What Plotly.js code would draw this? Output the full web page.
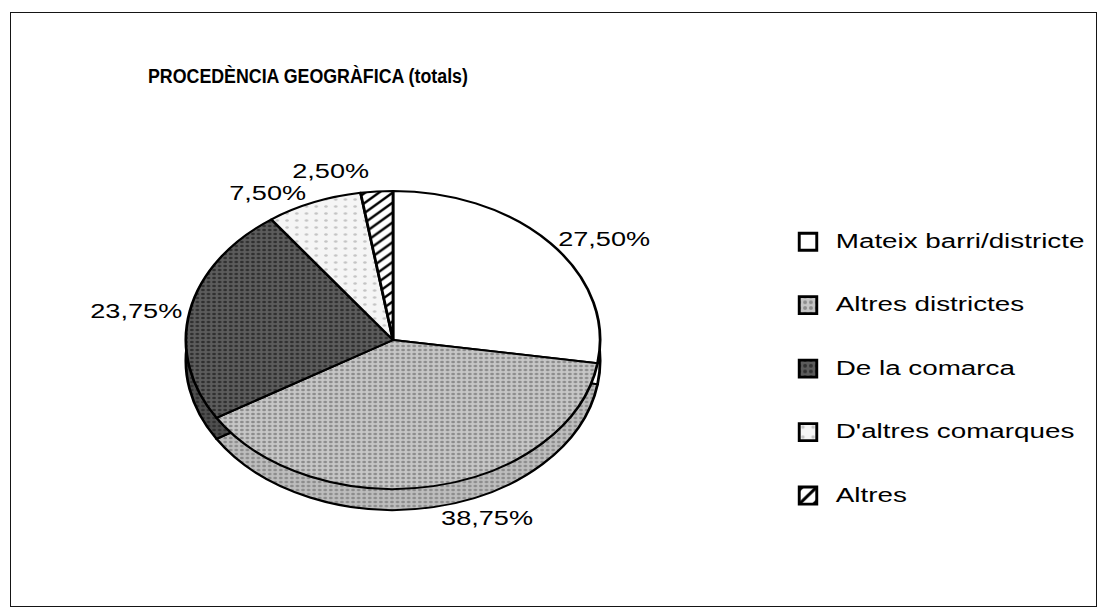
<!DOCTYPE html>
<html>
<head>
<meta charset="utf-8">
<script src="https://cdn.plot.ly/plotly-3.0.1.min.js"></script>
<style>
  html, body { margin: 0; padding: 0; background: #fff; overflow: hidden; }
  #wrap { position: relative; width: 1098px; height: 610px; overflow: hidden; background: #fff; }
  #plot { position: absolute; left: 0; top: 0; width: 790px; height: 610px; transform: scaleX(1.39); transform-origin: 0 0; }
  #frame { position: absolute; left: 10px; top: 12px; width: 1085px; height: 593px; border: 1.6px solid #151515; pointer-events: none; }
</style>
</head>
<body>
<div id="wrap">
  <div id="plot"></div>
  <div id="frame"></div>
</div>
<script>
// ---- data ----
const chartTitle = 'PROCEDÈNCIA GEOGRÀFICA (totals)';
const categories = ['Mateix barri/districte', 'Altres districtes', 'De la comarca', "D'altres comarques", 'Altres'];
const shares = [27.50, 38.75, 23.75, 7.50, 2.50];

// ---- styles ----
const fillColors = ['#ffffff', '#c6c6c6', '#5c5c5c', '#f5f5f5', '#ffffff'];
const patShapes = ['', '.', '.', '.', '/'];
const patFg = ['#ffffff', '#8c8c8c', '#303030', '#c4c4c4', '#000000'];
const patSize = [6, 4, 4, 7, 7];
const patSolid = [0.3, 0.35, 0.35, 0.1, 0.3];
const sideColors = ['#ffffff', '#bdbdbd', '#4e4e4e', '#eeeeee', '#ffffff'];

// labels on their own line so the legend rows are spaced like the original
const legendLabels = categories.map(c => ' <br><span style="font-size:20px">' + c + '</span><br> ');

const S = 1.39;                // horizontal stretch of the original scan
const W = 790, H = 610;
const cx = 393 / S, cy = 340, r = 149, depth = 21;
const dom = (x0, y0) => ({
  x: [(x0 - r) / W, (x0 + r) / W],
  y: [1 - (y0 + r) / H, 1 - (y0 - r) / H]
});
const pctFmt = '%{percent:.2%}';
// the front slice's label is carried by the lower (side) disc so it sits below the rim
const frontIdx = 1;

const side = {
  type: 'pie',
  values: shares,
  labels: legendLabels,
  sort: false,
  direction: 'clockwise',
  rotation: 0,
  domain: dom(cx, cy + depth),
  texttemplate: shares.map((v, i) => i === frontIdx ? pctFmt : ''),
  textposition: 'outside',
  outsidetextfont: { size: 19.5, color: '#000', family: 'Liberation Sans, Arial, sans-serif' },
  showlegend: false,
  hoverinfo: 'skip',
  marker: {
    colors: sideColors,
    line: { color: '#000', width: 2 },
    pattern: { shape: patShapes, fgcolor: patFg, bgcolor: sideColors, size: patSize, solidity: patSolid, fillmode: 'replace' }
  }
};

const main = {
  type: 'pie',
  values: shares,
  labels: legendLabels,
  sort: false,
  direction: 'clockwise',
  rotation: 0,
  domain: dom(cx, cy),
  texttemplate: shares.map((v, i) => i === frontIdx ? '' : pctFmt),
  textposition: 'outside',
  outsidetextfont: { size: 19.5, color: '#000', family: 'Liberation Sans, Arial, sans-serif' },
  hoverinfo: 'none',
  marker: {
    colors: fillColors,
    line: { color: '#000', width: 2 },
    pattern: { shape: patShapes, fgcolor: patFg, bgcolor: fillColors, size: patSize, solidity: patSolid, fillmode: 'replace' }
  }
};

const titleLeft = 148 / S;
const titleScaleX = 0.89;       // title face in the original is a tall, narrow bold
const layout = {
  width: W,
  height: H,
  margin: { l: 0, r: 0, t: 0, b: 0 },
  paper_bgcolor: 'rgba(0,0,0,0)',
  separators: ',.',
  font: { family: 'Liberation Sans, Arial, sans-serif', color: '#000', size: 20 },
  title: {
    text: chartTitle,
    font: { size: 20, weight: 'bold', color: '#000', family: 'Liberation Sans, Arial, sans-serif' },
    xref: 'container', yref: 'container',
    x: titleLeft / W, xanchor: 'left',
    y: 1 - 76 / H, yanchor: 'middle'
  },
  showlegend: true,
  legend: {
    x: (808 / S - 20) / W, xanchor: 'left',
    y: 1 - 205 / H, yanchor: 'top',
    font: { size: 15.5, color: '#000' },
    valign: 'middle',
    bgcolor: 'rgba(0,0,0,0)'
  }
};

Plotly.newPlot('plot', [side, main], layout, { displayModeBar: false, staticPlot: true }).then(gd => {
  // the title in the original is not stretched like the rest of the scan
  const g = gd.querySelector('.g-gtitle');
  if (g) g.setAttribute('transform', 'translate(' + titleLeft + ',0) scale(' + (titleScaleX / S) + ',1) translate(' + (-titleLeft) + ',0)');
  // legend swatches in the original are larger, square boxes
  gd.querySelectorAll('.legendpie').forEach(p => {
    const t = p.getAttribute('transform') || '';
    p.setAttribute('transform', t + ' scale(1.05,1.42)');
  });
  // the original has no leader lines to the labels
  gd.querySelectorAll('path.textline').forEach(p => p.setAttribute('display', 'none'));
});
</script>
</body>
</html>
